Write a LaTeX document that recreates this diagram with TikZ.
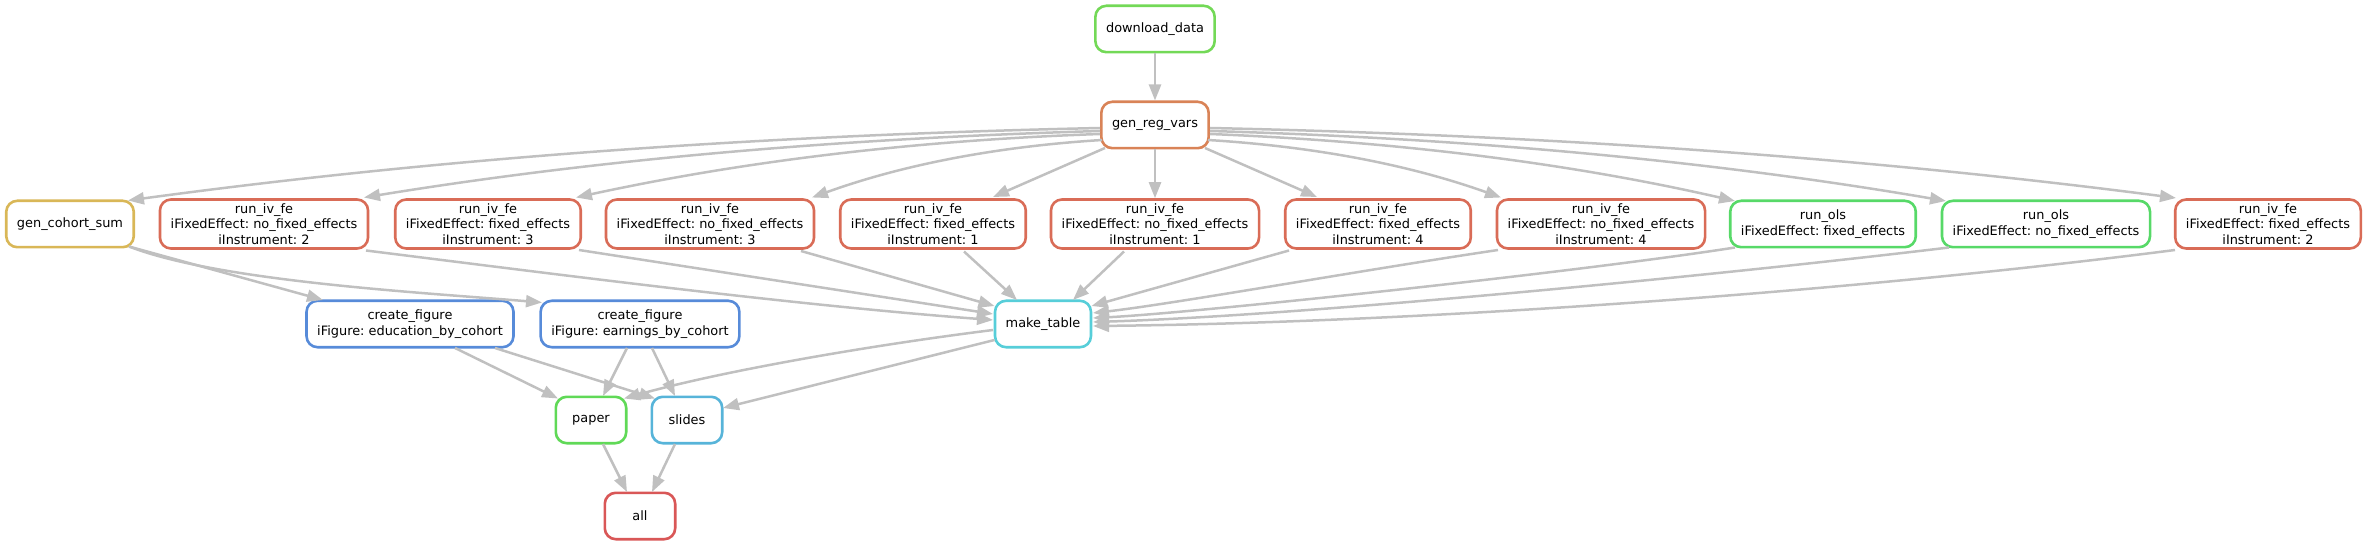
\documentclass[tikz,border=0pt]{standalone}
\usepackage{fontspec}
\setmainfont{DejaVu Sans}
\usetikzlibrary{arrows.meta,calc}
\definecolor{cedge}{RGB}{192,192,192}
\definecolor{cdd}{RGB}{115,217,87}
\definecolor{cgrv}{RGB}{217,131,87}
\definecolor{civ}{RGB}{217,108,87}
\definecolor{cgcs}{RGB}{217,183,87}
\definecolor{cols}{RGB}{87,217,104}
\definecolor{cfig}{RGB}{87,139,217}
\definecolor{cmt}{RGB}{87,206,217}
\definecolor{cpaper}{RGB}{96,217,87}
\definecolor{cslides}{RGB}{87,180,217}
\definecolor{call}{RGB}{217,87,87}
\frenchspacing
\begin{document}
\begin{tikzpicture}[x=1pt,y=-1pt,
  job/.style={draw, rounded corners=11pt, line width=2.6pt, fill=white, align=center,
    minimum width=70.4pt, minimum height=46.4pt, inner xsep=10.7pt, inner ysep=4pt,
    font=\fontsize{12.9}{15.5}\selectfont\frenchspacing},
  dep/.style={draw=cedge, line width=2.5pt, -{Triangle[length=16pt,width=12pt]}}]
\useasboundingbox (0,0) rectangle (2367,545);
% nodes
\node[job, draw=cdd] (dd) at (1155,29) {download\_data};
\node[job, draw=cgrv] (grv) at (1155,125) {gen\_reg\_vars};
\node[job, draw=cgcs] (gcs) at (70,224) {gen\_cohort\_sum};
\node[job, draw=civ] (a) at (264,224) {run\_iv\_fe\\iFixedEffect: no\_fixed\_effects\\iInstrument: 2};
\node[job, draw=civ] (b) at (488,224) {run\_iv\_fe\\iFixedEffect: fixed\_effects\\iInstrument: 3};
\node[job, draw=civ] (c) at (710,224) {run\_iv\_fe\\iFixedEffect: no\_fixed\_effects\\iInstrument: 3};
\node[job, draw=civ] (d) at (933,224) {run\_iv\_fe\\iFixedEffect: fixed\_effects\\iInstrument: 1};
\node[job, draw=civ] (e) at (1155,224) {run\_iv\_fe\\iFixedEffect: no\_fixed\_effects\\iInstrument: 1};
\node[job, draw=civ] (f) at (1378,224) {run\_iv\_fe\\iFixedEffect: fixed\_effects\\iInstrument: 4};
\node[job, draw=civ] (g) at (1601,224) {run\_iv\_fe\\iFixedEffect: no\_fixed\_effects\\iInstrument: 4};
\node[job, draw=cols] (h) at (1823,224) {run\_ols\\iFixedEffect: fixed\_effects};
\node[job, draw=cols] (k) at (2046,224) {run\_ols\\iFixedEffect: no\_fixed\_effects};
\node[job, draw=civ] (m) at (2268,224) {run\_iv\_fe\\iFixedEffect: fixed\_effects\\iInstrument: 2};
\node[job, draw=cmt] (mt) at (1043,324) {make\_table};
\node[job, draw=cfig] (edu) at (410,324) {create\_figure\\iFigure: education\_by\_cohort};
\node[job, draw=cfig] (earn) at (640,324) {create\_figure\\iFigure: earnings\_by\_cohort};
\node[job, draw=cpaper] (paper) at (591,420) {paper};
\node[job, draw=cslides] (slides) at (687,420) {slides};
\node[job, draw=call] (all) at (640,516) {all};
% edges
\draw[dep] (dd.south) -- (grv.north);
\draw[dep] ($(grv)+(-55,3)$) .. controls +(-324,7) and +(324,-44) .. ($(gcs)+(58,-23.5)$);
\draw[dep] ($(grv)+(-55,6)$) .. controls +(-245,7) and +(245,-40) .. ($(a)+(100,-26.5)$);
\draw[dep] ($(grv)+(-55,9)$) .. controls +(-175,6) and +(175,-38) .. ($(b)+(88,-26.5)$);
\draw[dep] ($(grv)+(-53,15)$) .. controls +(-97,6) and +(97,-35) .. ($(c)+(102,-26.5)$);
\draw[dep] ($(grv)+(-50,23)$) -- ($(d)+(60,-27)$);
\draw[dep] (grv.south) -- (e.north);
\draw[dep] ($(grv)+(50,23)$) -- ($(f)+(-61,-27)$);
\draw[dep] ($(grv)+(53,15)$) .. controls +(98,6) and +(-98,-35) .. ($(g)+(-100,-26.5)$);
\draw[dep] ($(grv)+(55,9)$) .. controls +(175,7) and +(-175,-40) .. ($(h)+(-88,-23)$);
\draw[dep] ($(grv)+(55,6)$) .. controls +(245,7) and +(-245,-42) .. ($(k)+(-100,-23)$);
\draw[dep] ($(grv)+(55,3)$) .. controls +(322,7) and +(-322,-42) .. ($(m)+(-92,-26)$);
% to make_table
\draw[dep] ($(a)+(102,26.5)$) .. controls +(200,25) and +(-200,-15) .. ($(mt)+(-50,-4)$);
\draw[dep] ($(b)+(91,26)$) -- ($(mt)+(-50,-10)$);
\draw[dep] ($(c)+(91,27)$) -- ($(mt)+(-48.5,-18)$);
\draw[dep] ($(d)+(31,27.5)$) -- ($(mt)+(-26,-24)$);
\draw[dep] ($(e)+(-31,27.5)$) -- ($(mt)+(30,-24)$);
\draw[dep] ($(f)+(-89,26.5)$) -- ($(mt)+(48.5,-18)$);
\draw[dep] ($(g)+(-103,26)$) .. controls +(-135,20) and +(80,-9) .. ($(mt)+(50,-11)$);
\draw[dep] ($(h)+(-88,23.5)$) .. controls +(-160,25) and +(100,-5) .. ($(mt)+(50,-6)$);
\draw[dep] ($(k)+(-97,23.5)$) .. controls +(-250,30) and +(200,-6) .. ($(mt)+(50,-2)$);
\draw[dep] ($(m)+(-93,26)$) .. controls +(-350,45) and +(300,-3) .. ($(mt)+(50,2)$);
% figures
\draw[dep] ($(gcs)+(59,22.5)$) -- ($(edu)+(-87,-24)$);
\draw[dep] ($(gcs)+(59,22.5)$) .. controls +(90,35) and +(-120,-10) .. ($(earn)+(-98,-21.5)$);
% to paper / slides
\draw[dep] ($(edu)+(45,24)$) -- ($(paper)+(-33,-21.5)$);
\draw[dep] ($(edu)+(85,24)$) -- ($(slides)+(-32,-21.5)$);
\draw[dep] ($(earn)+(-13,24)$) -- ($(paper)+(12,-24)$);
\draw[dep] ($(earn)+(12,24)$) -- ($(slides)+(-12,-24)$);
\draw[dep] ($(mt)+(-50,6)$) .. controls +(-120,15) and +(100,-28) .. ($(paper)+(33,-21.5)$);
\draw[dep] ($(mt)+(-48.5,16)$) -- ($(slides)+(36,-12)$);
% to all
\draw[dep] ($(paper)+(12,24)$) -- ($(all)+(-13,-24)$);
\draw[dep] ($(slides)+(-12,24)$) -- ($(all)+(12,-24)$);
\end{tikzpicture}
\end{document}
